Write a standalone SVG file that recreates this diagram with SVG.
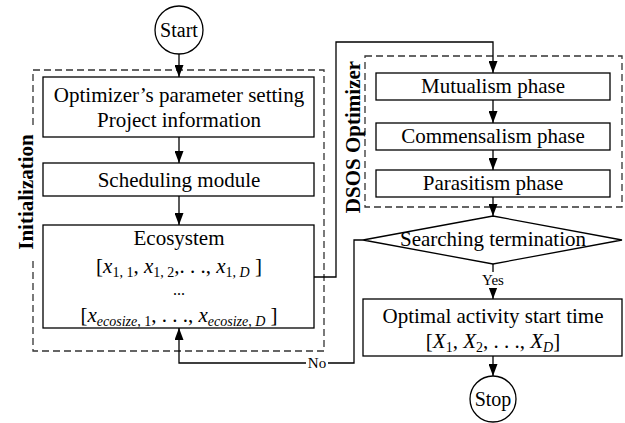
<svg xmlns="http://www.w3.org/2000/svg" width="625" height="423" viewBox="0 0 625 423" font-family="'Liberation Serif', 'Times New Roman', 'DejaVu Serif', serif">
<defs>
<marker id="arr" markerWidth="12" markerHeight="9" refX="12" refY="4.5" orient="auto" markerUnits="userSpaceOnUse" viewBox="0 0 12 9">
<path d="M0,0 L12,4.5 L0,9 Z" fill="#000"/>
</marker>
<style>
text{font-family:'Liberation Serif','Times New Roman','DejaVu Serif',serif;fill:#000;}
.t{font-size:21px;text-anchor:middle;}
.lbl{font-size:15px;text-anchor:middle;}
.grp{font-size:21px;font-weight:bold;text-anchor:middle;}
.box{fill:#fff;stroke:#000;stroke-width:1.3;}
.dash{fill:none;stroke:#333;stroke-width:1.3;stroke-dasharray:7,4;}
.con{fill:none;stroke:#000;stroke-width:1.3;}
.i{font-style:italic;}
.s{font-size:14px;}
</style>
</defs>
<rect width="625" height="423" fill="#fff"/>
<g id="init-group">
<rect class="dash" x="33" y="70" width="291" height="281"/>
<rect x="14" y="128" width="22" height="130" fill="#fff"/>
<text class="grp" transform="translate(33,192) rotate(-90)">Initialization</text>
</g>
<g id="dsos-group">
<rect class="dash" x="365" y="56" width="257" height="151"/>
<text class="grp" transform="translate(360,137) rotate(-90)">DSOS Optimizer</text>
</g>
<g id="connectors">
<path class="con" d="M179,54 V77" marker-end="url(#arr)"/>
<path class="con" d="M179,137 V163" marker-end="url(#arr)"/>
<path class="con" d="M179,196 V225" marker-end="url(#arr)"/>
<path class="con" d="M314,277 H336 V42 H493 V73" marker-end="url(#arr)"/>
<path class="con" d="M493,100 V123" marker-end="url(#arr)"/>
<path class="con" d="M493,150 V170" marker-end="url(#arr)"/>
<path class="con" d="M493,197 V216" marker-end="url(#arr)"/>
<path class="con" d="M493,264 V299" marker-end="url(#arr)"/>
<path class="con" d="M493,356 V376" marker-end="url(#arr)"/>
<path class="con" d="M363,240 H354 V363 H179 V328" marker-end="url(#arr)"/>
<rect x="480" y="272" width="26" height="16" fill="#fff"/>
<text class="lbl" x="493" y="285">Yes</text>
<rect x="306" y="355" width="22" height="16" fill="#fff"/>
<text class="lbl" x="317" y="368">No</text>
</g>
<g id="start">
<circle cx="179" cy="30" r="24" fill="#fff" stroke="#000" stroke-width="1.3"/>
<text class="t" x="179" y="37" style="font-size:20px">Start</text>
</g>
<g id="params">
<rect class="box" x="43" y="77" width="271" height="60"/>
<text class="t" x="179" y="102">Optimizer’s parameter setting</text>
<text class="t" x="179" y="127">Project information</text>
</g>
<g id="scheduling">
<rect class="box" x="43" y="163" width="271" height="33"/>
<text class="t" x="179" y="187">Scheduling module</text>
</g>
<g id="ecosystem">
<rect class="box" x="43" y="225" width="271" height="103"/>
<text class="t" x="179" y="245">Ecosystem</text>
<text class="t" x="179" y="273">[<tspan class="i">x</tspan><tspan class="s" dy="4">1, 1</tspan><tspan dy="-4">, </tspan><tspan class="i">x</tspan><tspan class="s" dy="4">1, 2</tspan><tspan dy="-4">,. . ., </tspan><tspan class="i">x</tspan><tspan class="s" dy="4">1, </tspan><tspan class="s i">D</tspan><tspan dy="-4"> ]</tspan></text>
<text class="t" x="179" y="295" style="font-size:16px">...</text>
<text class="t" x="179" y="322">[<tspan class="i">x</tspan><tspan class="s i" dy="4">ecosize</tspan><tspan class="s">, 1</tspan><tspan dy="-4">, . . ., </tspan><tspan class="i">x</tspan><tspan class="s i" dy="4">ecosize</tspan><tspan class="s">, </tspan><tspan class="s i">D</tspan><tspan dy="-4"> ]</tspan></text>
</g>
<g id="mutualism">
<rect class="box" x="376" y="73" width="234" height="27"/>
<text class="t" x="493" y="93">Mutualism phase</text>
</g>
<g id="commensalism">
<rect class="box" x="376" y="123" width="234" height="27"/>
<text class="t" x="493" y="143">Commensalism phase</text>
</g>
<g id="parasitism">
<rect class="box" x="376" y="170" width="234" height="27"/>
<text class="t" x="493" y="190">Parasitism phase</text>
</g>
<g id="termination">
<polygon points="363,240 493,216 622,240 493,264" fill="#fff" stroke="#000" stroke-width="1.3"/>
<text class="t" x="493" y="246">Searching termination</text>
</g>
<g id="optimal">
<rect class="box" x="363" y="299" width="259" height="57"/>
<text class="t" x="493" y="323">Optimal activity start time</text>
<text class="t" x="493" y="348">[<tspan class="i">X</tspan><tspan class="s" dy="4">1</tspan><tspan dy="-4">, </tspan><tspan class="i">X</tspan><tspan class="s" dy="4">2</tspan><tspan dy="-4">, . . ., </tspan><tspan class="i">X</tspan><tspan class="s i" dy="4">D</tspan><tspan dy="-4">]</tspan></text>
</g>
<g id="stop">
<circle cx="493" cy="399" r="23" fill="#fff" stroke="#000" stroke-width="1.3"/>
<text class="t" x="493" y="406" style="font-size:20px">Stop</text>
</g>
</svg>
